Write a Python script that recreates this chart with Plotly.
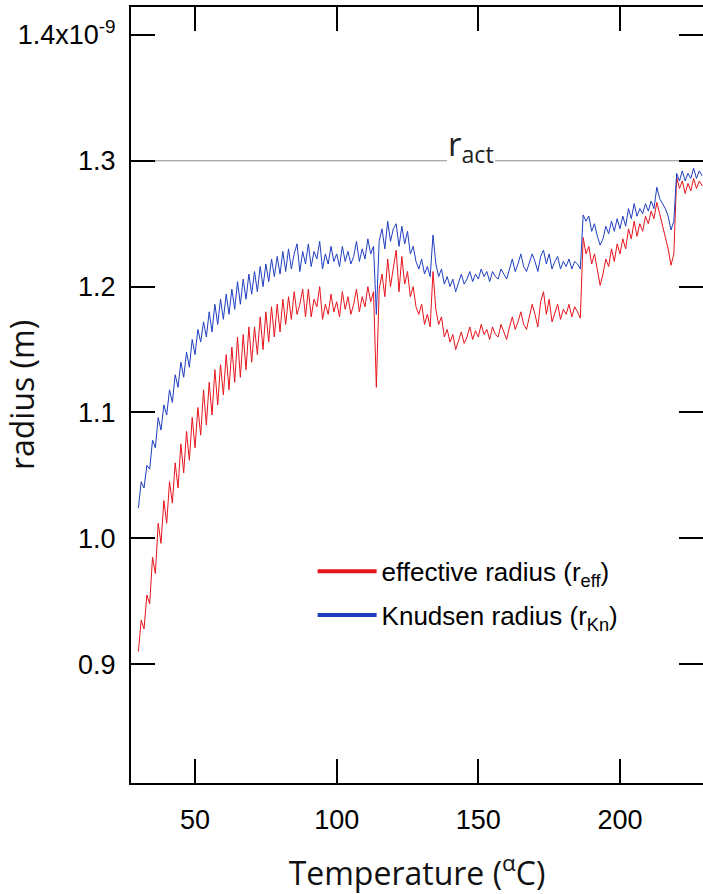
import plotly.graph_objects as go

# Temperature grid (deg C)
temperature = [
    30, 31, 32, 33, 34, 35, 36, 37, 38, 39,
    40, 41, 42, 43, 44, 45, 46, 47, 48, 49,
    50, 51, 52, 53, 54, 55, 56, 57, 58, 59,
    60, 61, 62, 63, 64, 65, 66, 67, 68, 69,
    70, 71, 72, 73, 74, 75, 76, 77, 78, 79,
    80, 81, 82, 83, 84, 85, 86, 87, 88, 89,
    90, 91, 92, 93, 94, 95, 96, 97, 98, 99,
    100, 101, 102, 103, 104, 105, 106, 107, 108, 109,
    110, 111, 112, 113, 114, 115, 116, 117, 118, 119,
    120, 121, 122, 123, 124, 125, 126, 127, 128, 129,
    130, 131, 132, 133, 134, 135, 136, 137, 138, 139,
    140, 141, 142, 143, 144, 145, 146, 147, 148, 149,
    150, 151, 152, 153, 154, 155, 156, 157, 158, 159,
    160, 161, 162, 163, 164, 165, 166, 167, 168, 169,
    170, 171, 172, 173, 174, 175, 176, 177, 178, 179,
    180, 181, 182, 183, 184, 185, 186, 187, 188, 189,
    190, 191, 192, 193, 194, 195, 196, 197, 198, 199,
    200, 201, 202, 203, 204, 205, 206, 207, 208, 209,
    210, 211, 212, 213, 214, 215, 216, 217, 218, 219,
    220, 221, 222, 223, 224, 225, 226, 227, 228, 229,
]

# effective radius r_eff (units of 1e-9 m)
r_eff = [
    0.910, 0.935, 0.928, 0.955, 0.948, 0.985, 0.972, 1.012, 0.996, 1.030,
    1.012, 1.045, 1.028, 1.060, 1.040, 1.075, 1.052, 1.085, 1.062, 1.096,
    1.072, 1.104, 1.082, 1.118, 1.090, 1.124, 1.098, 1.134, 1.106, 1.138,
    1.114, 1.146, 1.118, 1.152, 1.124, 1.160, 1.128, 1.162, 1.134, 1.168,
    1.140, 1.168, 1.146, 1.176, 1.150, 1.180, 1.156, 1.184, 1.160, 1.186,
    1.164, 1.190, 1.170, 1.192, 1.174, 1.196, 1.178, 1.186, 1.198, 1.176,
    1.198, 1.176, 1.190, 1.184, 1.200, 1.174, 1.186, 1.178, 1.194, 1.180,
    1.188, 1.176, 1.196, 1.182, 1.192, 1.178, 1.186, 1.198, 1.180, 1.192,
    1.184, 1.200, 1.188, 1.196, 1.120, 1.198, 1.210, 1.192, 1.222, 1.200,
    1.215, 1.229, 1.196, 1.224, 1.202, 1.212, 1.192, 1.200, 1.184, 1.178,
    1.186, 1.170, 1.178, 1.168, 1.212, 1.182, 1.170, 1.176, 1.160, 1.166,
    1.156, 1.162, 1.150, 1.158, 1.164, 1.155, 1.160, 1.168, 1.158, 1.165,
    1.160, 1.170, 1.162, 1.166, 1.158, 1.168, 1.162, 1.160, 1.170, 1.164,
    1.158, 1.168, 1.176, 1.166, 1.172, 1.180, 1.170, 1.166, 1.176, 1.186,
    1.178, 1.168, 1.188, 1.196, 1.178, 1.190, 1.172, 1.180, 1.186, 1.174,
    1.182, 1.178, 1.186, 1.176, 1.184, 1.180, 1.175, 1.239, 1.226, 1.232,
    1.218, 1.226, 1.212, 1.201, 1.210, 1.222, 1.216, 1.230, 1.220, 1.234,
    1.226, 1.238, 1.230, 1.246, 1.238, 1.252, 1.240, 1.250, 1.244, 1.256,
    1.250, 1.260, 1.254, 1.267, 1.258, 1.248, 1.240, 1.230, 1.217, 1.226,
    1.287, 1.278, 1.284, 1.274, 1.282, 1.276, 1.286, 1.278, 1.284, 1.280,
]

# Knudsen radius r_Kn (units of 1e-9 m)
r_kn = [
    1.024, 1.045, 1.040, 1.058, 1.055, 1.078, 1.072, 1.096, 1.086, 1.106,
    1.098, 1.118, 1.108, 1.130, 1.120, 1.140, 1.128, 1.148, 1.136, 1.158,
    1.146, 1.166, 1.156, 1.172, 1.160, 1.180, 1.164, 1.186, 1.170, 1.190,
    1.174, 1.194, 1.178, 1.198, 1.182, 1.204, 1.186, 1.206, 1.190, 1.210,
    1.194, 1.212, 1.196, 1.216, 1.200, 1.218, 1.204, 1.222, 1.208, 1.224,
    1.210, 1.228, 1.212, 1.230, 1.214, 1.226, 1.234, 1.212, 1.228, 1.218,
    1.234, 1.216, 1.228, 1.222, 1.236, 1.214, 1.226, 1.218, 1.232, 1.220,
    1.226, 1.216, 1.232, 1.220, 1.228, 1.218, 1.224, 1.236, 1.220, 1.230,
    1.222, 1.238, 1.226, 1.232, 1.178, 1.236, 1.246, 1.230, 1.252, 1.236,
    1.246, 1.250, 1.232, 1.248, 1.234, 1.244, 1.226, 1.232, 1.220, 1.214,
    1.222, 1.210, 1.216, 1.208, 1.241, 1.218, 1.208, 1.214, 1.202, 1.208,
    1.200, 1.206, 1.196, 1.204, 1.210, 1.202, 1.206, 1.212, 1.204, 1.210,
    1.206, 1.214, 1.208, 1.212, 1.204, 1.212, 1.208, 1.206, 1.214, 1.210,
    1.206, 1.214, 1.222, 1.212, 1.218, 1.226, 1.216, 1.212, 1.220, 1.226,
    1.220, 1.212, 1.224, 1.229, 1.218, 1.226, 1.214, 1.220, 1.224, 1.214,
    1.220, 1.216, 1.222, 1.214, 1.220, 1.218, 1.214, 1.257, 1.252, 1.256,
    1.244, 1.250, 1.240, 1.233, 1.238, 1.248, 1.242, 1.252, 1.244, 1.254,
    1.246, 1.256, 1.248, 1.262, 1.254, 1.266, 1.256, 1.262, 1.258, 1.266,
    1.260, 1.268, 1.262, 1.279, 1.270, 1.266, 1.262, 1.256, 1.245, 1.252,
    1.290, 1.284, 1.292, 1.284, 1.290, 1.286, 1.294, 1.286, 1.292, 1.288,
]

# activation radius reference line (gap left for its label)
r_act = 1.3
r_act_x_left = [27.4, 138.9]
r_act_x_right = [155.9, 229.3]

x_ticks = [50, 100, 150, 200]
y_ticks = [0.9, 1.0, 1.1, 1.2, 1.3, 1.4]
y_tick_text = ["0.9", "1.0", "1.1", "1.2", "1.3", "1.4x10<sup>-9</sup>"]

RED = "#e8141c"
BLUE = "#1f3fbf"
TICK_FONT = dict(family="Liberation Sans, Arial", size=27, color="black")
TITLE_FONT = dict(family="Open Sans", size=32, color="#111")

fig = go.Figure()

fig.add_trace(go.Scatter(
    x=r_act_x_left + [None] + r_act_x_right,
    y=[r_act, r_act, None, r_act, r_act],
    mode="lines", line=dict(color="#8a8a8a", width=1),
    showlegend=False, hoverinfo="skip",
))

fig.add_trace(go.Scatter(x=temperature, y=r_eff, mode="lines",
                         line=dict(color=RED, width=1), showlegend=False))
fig.add_trace(go.Scatter(x=temperature, y=r_kn, mode="lines",
                         line=dict(color=BLUE, width=1), showlegend=False))

# legend entries (thicker sample lines)
fig.add_trace(go.Scatter(x=[None], y=[None], mode="lines",
                         line=dict(color=RED, width=4),
                         name="effective radius (r<sub>eff</sub>)", legendgroup="a"))
fig.add_trace(go.Scatter(x=[None], y=[None], mode="lines",
                         line=dict(color=BLUE, width=4),
                         name="Knudsen radius (r<sub>Kn</sub>)", legendgroup="b"))

fig.add_annotation(
    x=147.4, y=r_act, xref="x", yref="y",
    text="r<sub>act</sub>", showarrow=False,
    font=dict(family="Open Sans", size=33, color="#222"),
    yanchor="middle", yshift=15,
)

fig.update_layout(
    width=703, height=894,
    margin=dict(l=131, r=0, t=7, b=111),
    paper_bgcolor="white", plot_bgcolor="white",
    showlegend=True,
    legend=dict(
        x=0.3175, y=0.303, xanchor="left", yanchor="top",
        font=dict(family="Liberation Sans, Arial", size=26, color="black"),
        bgcolor="rgba(0,0,0,0)", itemwidth=59, tracegroupgap=7,
    ),
    xaxis=dict(
        range=[27.4, 229.3], tickvals=x_ticks, ticks="inside", ticklen=24,
        tickwidth=2, tickcolor="black", showline=True, linecolor="black",
        linewidth=2, mirror="ticks", showgrid=False, zeroline=False,
        tickfont=TICK_FONT, ticklabelstandoff=12, automargin=False,
        title=dict(text="Temperature (<sup>α</sup>C)", font=TITLE_FONT, standoff=28),
    ),
    yaxis=dict(
        range=[0.8056, 1.4222], tickvals=y_ticks, ticktext=y_tick_text,
        ticks="inside", ticklen=24, tickwidth=2, tickcolor="black",
        showline=True, linecolor="black", linewidth=2, showgrid=False,
        zeroline=False, tickfont=TICK_FONT, ticklabelstandoff=8,
        automargin=False,
        title=dict(text="radius (m)", font=TITLE_FONT, standoff=18),
    ),
    yaxis2=dict(
        range=[0.8056, 1.4222], tickvals=y_ticks, ticks="inside", ticklen=24,
        tickwidth=2, tickcolor="black", showline=False, showgrid=False,
        zeroline=False, showticklabels=False, overlaying="y", side="right",
        automargin=False,
    ),
)

fig.add_trace(go.Scatter(x=[None], y=[None], yaxis="y2", showlegend=False,
                         hoverinfo="skip"))

fig.write_html("out.html")
